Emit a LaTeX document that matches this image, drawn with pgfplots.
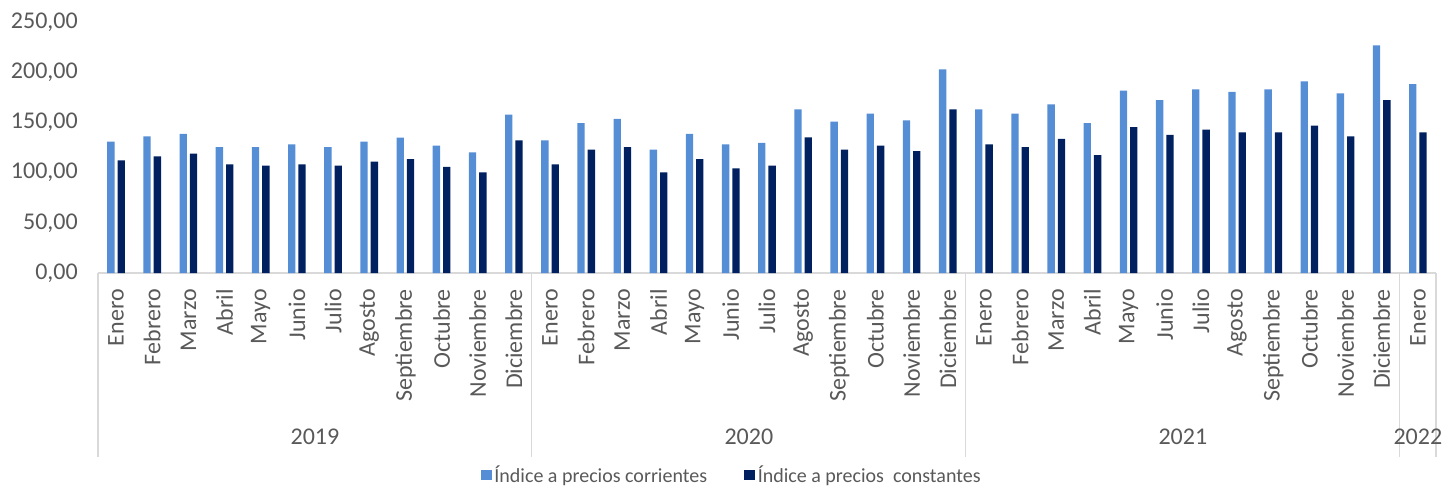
\documentclass[border=0pt]{standalone}
\usepackage{pgfplots}
\pgfplotsset{compat=1.18}
\usepackage{pgfplotstable}
\usepackage{fontspec}
\setmainfont{Carlito}

\definecolor{corr}{RGB}{85,142,213}
\definecolor{cons}{RGB}{0,32,96}
\definecolor{txt}{RGB}{89,89,89}
\definecolor{gris}{RGB}{217,217,217}

% indice por mes: corrientes / constantes
\pgfplotstableread{
i  corr   cons
0  130.8  112.2
1  136.1  116.2
2  138.7  118.8
3  125.5  108.3
4  125.5  106.9
5  128.2  108.3
6  125.5  106.9
7  130.8  110.9
8  134.8  113.5
9  126.8  105.6
10 120.2  100.3
11 157.7  132.2
12 132.2  108.3
13 149.4  122.8
14 153.4  125.5
15 122.8  100.3
16 138.7  113.5
17 128.2  104.3
18 129.5  106.9
19 163.0  135.2
20 150.7  122.8
21 158.7  126.8
22 152.1  121.5
23 202.9  163.0
24 163.0  128.2
25 158.7  125.5
26 168.0  133.5
27 149.4  117.5
28 181.6  145.4
29 172.3  137.5
30 183.0  142.7
31 180.3  140.1
32 183.0  140.1
33 190.9  146.7
34 179.0  136.1
35 226.8  172.3
36 188.2  140.1
}\datos

\begin{document}
\begin{tikzpicture}
\path[use as bounding box] (-73.5pt,-160.5pt) rectangle (1017pt,204.75pt);
\begin{axis}[
  at={(0,0)}, anchor=south west,
  scale only axis, width=1003.5pt, height=188.25pt,
  ymin=0, ymax=250, ytick={0,50,...,250},
  xmin=-0.5, xmax=36.5,
  xtick={0,...,36},
  xticklabels={Enero,Febrero,Marzo,Abril,Mayo,Junio,Julio,Agosto,Septiembre,Octubre,Noviembre,Diciembre,
               Enero,Febrero,Marzo,Abril,Mayo,Junio,Julio,Agosto,Septiembre,Octubre,Noviembre,Diciembre,
               Enero,Febrero,Marzo,Abril,Mayo,Junio,Julio,Agosto,Septiembre,Octubre,Noviembre,Diciembre,
               Enero},
  ybar=2.25pt, bar width=5.5pt,
  axis lines*=left,
  x axis line style={gris, line width=0.8pt},
  y axis line style={draw=none},
  major tick length=0pt,
  clip=false,
  /pgf/number format/assume math mode=true,
  /pgf/number format/fixed,
  /pgf/number format/fixed zerofill,
  /pgf/number format/precision=2,
  /pgf/number format/use comma,
  /pgf/number format/1000 sep={},
  ticklabel style={font=\fontsize{18pt}{20pt}\selectfont, text=txt},
  yticklabel style={anchor=east, inner sep=0pt, xshift=-15pt},
  xticklabel style={rotate=90, anchor=east, inner sep=0pt},
  xticklabel shift=12pt,
  legend columns=2,
  legend style={at={(0.474,-0.805)}, anchor=center, draw=none, fill=none, inner sep=0pt,
    font=\fontsize{15pt}{17pt}\selectfont, text=txt,
    /tikz/every even column/.append style={column sep=26pt}},
  legend cell align=left,
]
\addplot[fill=corr, draw=none,
  legend image code/.code={\fill[corr] (0pt,-4pt) rectangle (8pt,4pt);}]
  table[x=i, y=corr] {\datos};
\addlegendentry{Índice a precios corrientes}
\addplot[fill=cons, draw=none,
  legend image code/.code={\fill[cons] (0pt,-4pt) rectangle (8pt,4pt);}]
  table[x=i, y=cons] {\datos};
\addlegendentry{Índice a precios\ \ constantes}

\draw[gris, line width=0.8pt] (axis cs:-0.5,0) -- ++(0pt,-138pt);
\draw[gris, line width=0.8pt] (axis cs:11.5,0) -- ++(0pt,-138pt);
\draw[gris, line width=0.8pt] (axis cs:23.5,0) -- ++(0pt,-138pt);
\draw[gris, line width=0.8pt] (axis cs:35.5,0) -- ++(0pt,-138pt);
\draw[gris, line width=0.8pt] (axis cs:36.5,0) -- ++(0pt,-138pt);

\node[font=\fontsize{18pt}{20pt}\selectfont, text=txt, yshift=-123pt] at (axis cs:5.5,0) {2019};
\node[font=\fontsize{18pt}{20pt}\selectfont, text=txt, yshift=-123pt] at (axis cs:17.5,0) {2020};
\node[font=\fontsize{18pt}{20pt}\selectfont, text=txt, yshift=-123pt] at (axis cs:29.5,0) {2021};
\node[font=\fontsize{18pt}{20pt}\selectfont, text=txt, yshift=-123pt] at (axis cs:36,0) {2022};
\end{axis}
\end{tikzpicture}
\end{document}
